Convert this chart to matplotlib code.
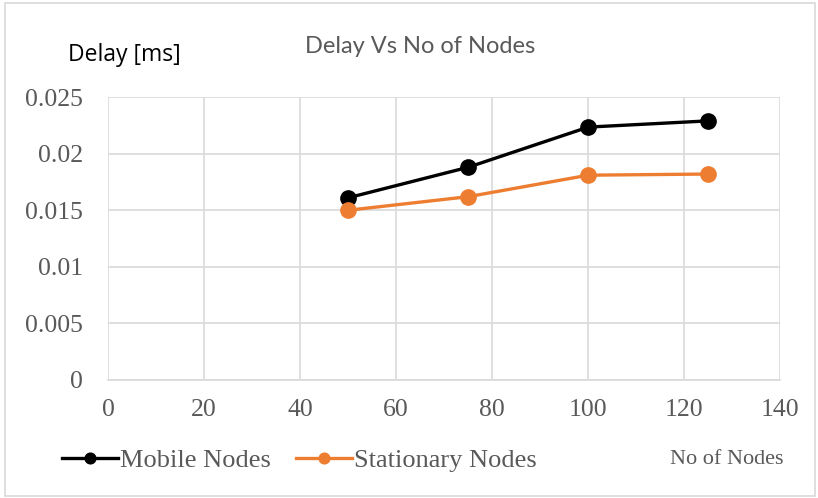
import matplotlib
matplotlib.use("Agg")
import matplotlib.pyplot as plt
from matplotlib.patches import Rectangle

nodes = [50, 75, 100, 125]
mobile = [0.0161, 0.0188, 0.02235, 0.0229]
stationary = [0.0150, 0.0162, 0.0181, 0.0182]
xticks = [0, 20, 40, 60, 80, 100, 120, 140]
yticks = [0, 0.005, 0.01, 0.015, 0.02, 0.025]
ytick_labels = ["0", "0.005", "0.01", "0.015", "0.02", "0.025"]

fig = plt.figure(figsize=(8.18, 4.98), dpi=100)
fig.patches.append(Rectangle((0.006, 0.004), 0.99, 0.99, transform=fig.transFigure,
                             fill=False, edgecolor="#d9d9d9", linewidth=1.2))
ax = fig.add_axes([0.132, 0.237, 0.822, 0.568])
ax.plot(nodes, mobile, color="black", lw=2.4, marker="o", ms=11, label="Mobile Nodes", zorder=3)
ax.plot(nodes, stationary, color="#ed7d31", lw=2.4, marker="o", ms=11, label="Stationary Nodes", zorder=3)
ax.set_xlim(0, 140)
ax.set_ylim(0, 0.025)
ax.set_xticks(xticks)
ax.set_xticklabels([str(v) for v in xticks])
ax.set_yticks(yticks)
ax.set_yticklabels(ytick_labels)
for s in ["top", "right", "left"]:
    ax.spines[s].set_visible(False)
ax.spines["bottom"].set_color("#d9d9d9")
ax.spines["bottom"].set_linewidth(1.2)
ax.grid(True, color="#d9d9d9", lw=1.2)
ax.set_axisbelow(True)
ax.tick_params(axis="y", length=0, pad=18, labelsize=18.5, labelcolor="#595959")
ax.tick_params(axis="x", length=0, pad=14, labelsize=18.5, labelcolor="#595959")
for lab in ax.get_xticklabels() + ax.get_yticklabels():
    lab.set_fontfamily("Liberation Serif")

fig.text(0.083, 0.889, "Delay [ms]", fontsize=16.5, family="Open Sans", color="black", va="center")
fig.text(0.514, 0.906, "Delay Vs No of Nodes", fontsize=17, family="Lato", color="#595959",
         ha="center", va="center")
fig.text(0.889, 0.077, "No of Nodes", fontsize=16, family="Liberation Serif", color="#595959",
         ha="center", va="center")

leg = fig.legend(loc="center left", bbox_to_anchor=(0.076, 0.075), ncol=2, frameon=False,
                 prop={"family": "Liberation Serif", "size": 19}, handlelength=2.1,
                 handletextpad=0.1, columnspacing=0.95, markerscale=0.7, borderaxespad=0,
                 borderpad=0)
for t in leg.get_texts():
    t.set_color("#595959")

fig.savefig("out.png", dpi=100)
